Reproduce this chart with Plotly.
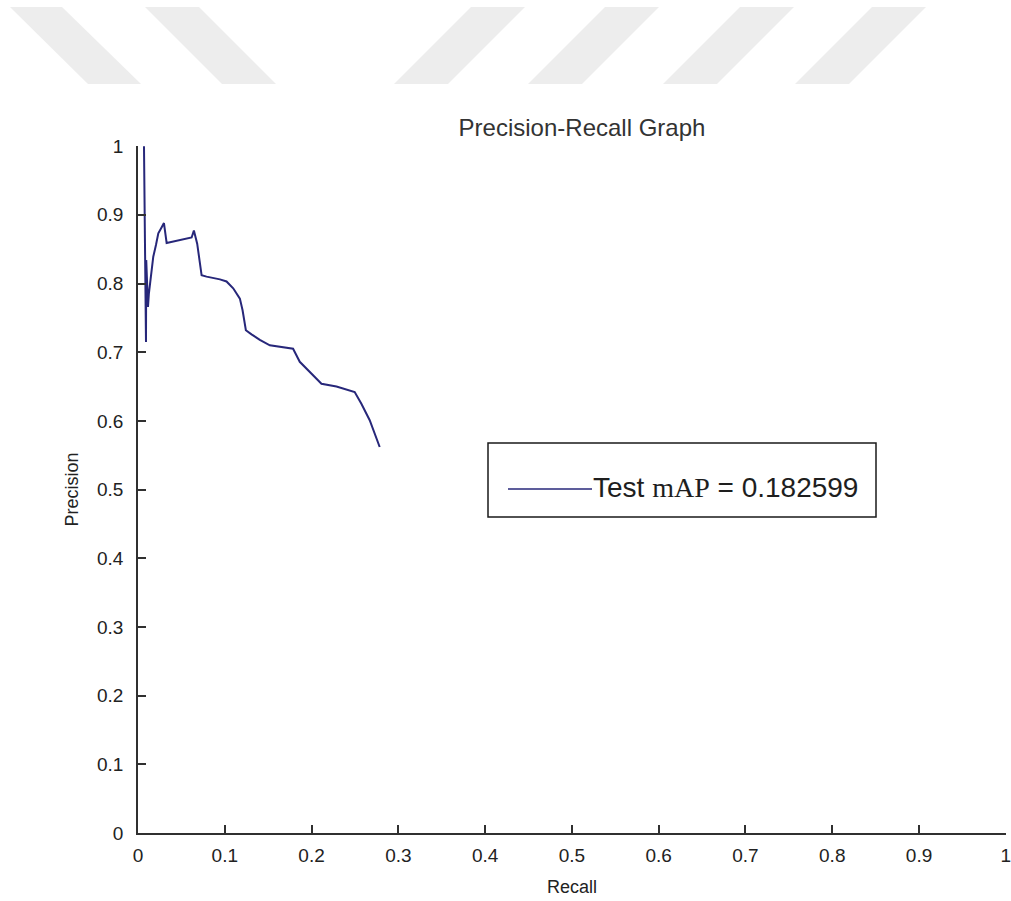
import plotly.graph_objects as go

# ---- data ----
recall = [0.0069, 0.0092, 0.0095, 0.0115, 0.0125, 0.0176, 0.0207, 0.0234, 0.0273, 0.0299,
          0.0330, 0.0503, 0.0618, 0.0644, 0.0682, 0.0733, 0.0790, 0.0944, 0.1020, 0.1097,
          0.1174, 0.1205, 0.1243, 0.1308, 0.1404, 0.1519, 0.1614, 0.1787, 0.1864, 0.1979,
          0.2114, 0.2287, 0.2497, 0.2574, 0.2670, 0.2785]
precision = [1.000, 0.715, 0.834, 0.766, 0.785, 0.839, 0.856, 0.873, 0.882, 0.888,
             0.859, 0.864, 0.867, 0.877, 0.858, 0.812, 0.810, 0.806, 0.803, 0.793,
             0.778, 0.761, 0.732, 0.726, 0.718, 0.710, 0.708, 0.705, 0.686, 0.671,
             0.654, 0.650, 0.642, 0.625, 0.601, 0.562]
series_name = "Test mAP = 0.182599"
title_text = "Precision-Recall Graph"
x_title = "Recall"
y_title = "Precision"
tick_vals = [0, 0.1, 0.2, 0.3, 0.4, 0.5, 0.6, 0.7, 0.8, 0.9, 1]
tick_text = ["0", "0.1", "0.2", "0.3", "0.4", "0.5", "0.6", "0.7", "0.8", "0.9", "1"]

# ---- layout geometry (pixels) ----
W, H = 1011, 901
L, R, T, B = 138, 1006, 146, 833

def px(x):
    return (x - L) / (R - L)

def py(y):
    return (B - y) / (B - T)

LINE_COLOR = "#27277a"
AX_COLOR = "#303030"
FONT = "Liberation Sans, Arial, sans-serif"

fig = go.Figure()
fig.add_trace(go.Scatter(x=recall, y=precision, mode="lines",
                         line=dict(color=LINE_COLOR, width=2),
                         name=series_name, showlegend=False))

shapes = []
# watermark stripes (decoration at top)
stripes = [
    [(10, 7), (62, 7), (141, 84), (88, 84)],
    [(145, 7), (199, 7), (276, 84), (222, 84)],
    [(471, 7), (525, 7), (448, 84), (394, 84)],
    [(605, 7), (659, 7), (582, 84), (528, 84)],
    [(740, 7), (794, 7), (717, 84), (663, 84)],
    [(872, 7), (926, 7), (849, 84), (795, 84)],
]
for pts in stripes:
    path = "M " + " L ".join(f"{px(a):.5f},{py(b):.5f}" for a, b in pts) + " Z"
    shapes.append(dict(type="path", path=path, xref="paper", yref="paper",
                       fillcolor="#ededed", line=dict(width=0), layer="below"))

# legend box
shapes.append(dict(type="rect", xref="paper", yref="paper",
                   x0=px(488), x1=px(876), y0=py(517), y1=py(443),
                   line=dict(color="#1a1a1a", width=1.5), fillcolor="white"))
shapes.append(dict(type="line", xref="paper", yref="paper",
                   x0=px(508), x1=px(592), y0=py(489), y1=py(489),
                   line=dict(color=LINE_COLOR, width=1.5)))

legend_label = ("Test <span style='font-family:Liberation Serif, serif'>mAP</span>"
                " = 0.182599")
annotations = [
    dict(text=legend_label, xref="paper", yref="paper", x=px(591), y=py(487),
         xanchor="left", yanchor="middle", showarrow=False,
         font=dict(family=FONT, size=28, color="#1e1e1e")),
]

axis_common = dict(range=[0, 1.0002], tickvals=tick_vals, ticktext=tick_text,
                   showgrid=False, zeroline=False, showline=True,
                   linecolor=AX_COLOR, linewidth=1.5, ticks="inside",
                   ticklen=8, tickwidth=1.5, tickcolor=AX_COLOR,
                   tickfont=dict(family=FONT, size=19, color="#222222"),
                   ticklabeloverflow="allow",
                   fixedrange=True)

fig.update_layout(
    width=W, height=H,
    margin=dict(l=L, r=W - R, t=T, b=H - B, pad=0, autoexpand=False),
    paper_bgcolor="white", plot_bgcolor="white",
    showlegend=False,
    title=dict(text=title_text, x=(582 - L) / (R - L), xref="paper", xanchor="center",
               y=1 - 128 / H, yref="container", yanchor="middle",
               font=dict(family=FONT, size=24, color="#333333")),
    xaxis=dict(**axis_common, ticklabelstandoff=4,
               title=dict(text=x_title, standoff=16,
                          font=dict(family=FONT, size=18, color="#222222"))),
    yaxis=dict(**axis_common, ticklabelstandoff=9,
               title=dict(text=y_title, standoff=14,
                          font=dict(family=FONT, size=18, color="#222222"))),
    shapes=shapes,
    annotations=annotations,
)

fig.write_html("out.html")
